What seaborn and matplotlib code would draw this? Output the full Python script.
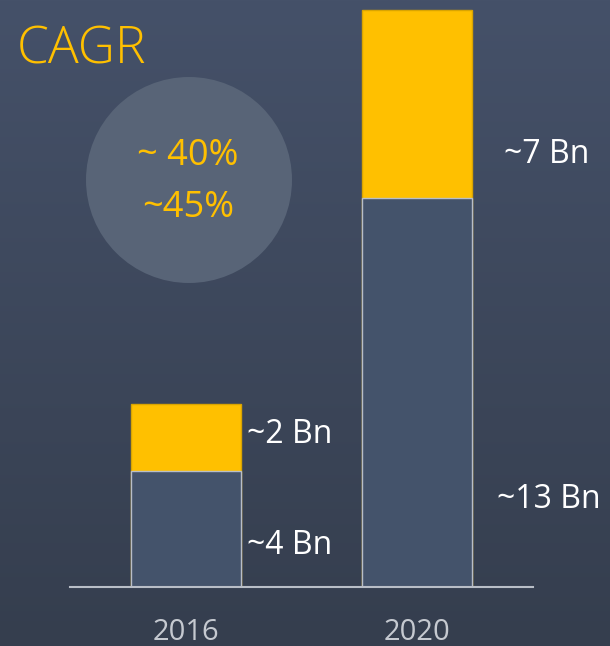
import numpy as np
import pandas as pd
import matplotlib.pyplot as plt
import matplotlib.patches as mpatches
import seaborn as sns

years       = ["2016", "2020"]
base_bn     = [4.0, 13.4]     # lower (slate) segment
top_bn      = [2.3, 6.5]      # upper (yellow) segment
base_labels = ["~4 Bn", "~13 Bn"]
top_labels  = ["~2 Bn", "~7 Bn"]
cagr_lines  = ["~ 40%", "~45%"]

YELLOW = "#ffc000"
SLATE  = "#44536b"
EDGE   = "#b9bec7"

sns.set_theme(style="white")
plt.rcParams["font.family"] = ["Open Sans", "DejaVu Sans"]

df = pd.DataFrame({"year": years, "base": base_bn, "top": top_bn})
df["total"] = df["base"] + df["top"]

fig = plt.figure(figsize=(6.10, 6.46), dpi=100)

# background gradient + decoration layer in pixel units
bg = fig.add_axes([0, 0, 1, 1])
grad = np.linspace(0, 1, 256).reshape(-1, 1)
top_c = np.array([0x45, 0x51, 0x69]) / 255
bot_c = np.array([0x35, 0x3e, 0x4e]) / 255
img = top_c + (bot_c - top_c) * grad[..., None]
bg.imshow(img.reshape(256, 1, 3), extent=[0, 610, 646, 0], aspect="auto")
bg.set_xlim(0, 610)
bg.set_ylim(646, 0)
bg.axis("off")
bg.add_patch(mpatches.Circle((189, 180), 103, color="#586477", lw=0))
bg.text(17, 50, "CAGR", color=YELLOW, fontsize=37, fontweight="light",
        va="center", ha="left")
for i, s in enumerate(cagr_lines):
    bg.text(188, 156 + 52 * i, s, color=YELLOW, fontsize=26,
            ha="center", va="center")

ax = fig.add_axes([70 / 610, 59 / 646, 463 / 610, 587 / 646])
ax.set_facecolor("none")
sns.barplot(data=df, x="year", y="total", color=YELLOW, saturation=1,
            width=0.476, edgecolor="#d9a400", linewidth=1, ax=ax)
sns.barplot(data=df, x="year", y="base", color=SLATE, saturation=1,
            width=0.476, edgecolor=EDGE, linewidth=1, ax=ax)

ax.set_xlim(-0.5, 1.5)
ax.set_ylim(0, 20.24)
ax.set_xlabel("")
ax.set_ylabel("")
ax.set_yticks([])
for s in ["top", "left", "right"]:
    ax.spines[s].set_visible(False)
ax.spines["bottom"].set_color(EDGE)
ax.spines["bottom"].set_linewidth(1.5)
ax.tick_params(axis="x", length=0, pad=22, labelsize=21, labelcolor="#c5c9d0")

# value labels beside the bars
lab_x   = [0.266, 1.346]
base_y  = [1.42, 3.0]
top_lx  = [0.266, 1.376]
top_y   = [5.25, 14.9]
for i in range(len(years)):
    ax.text(lab_x[i], base_y[i], base_labels[i], color="white", fontsize=23,
            va="center", ha="left", clip_on=False)
    ax.text(top_lx[i], top_y[i], top_labels[i], color="white", fontsize=23,
            va="center", ha="left", clip_on=False)

fig.savefig("out.png", dpi=100)
